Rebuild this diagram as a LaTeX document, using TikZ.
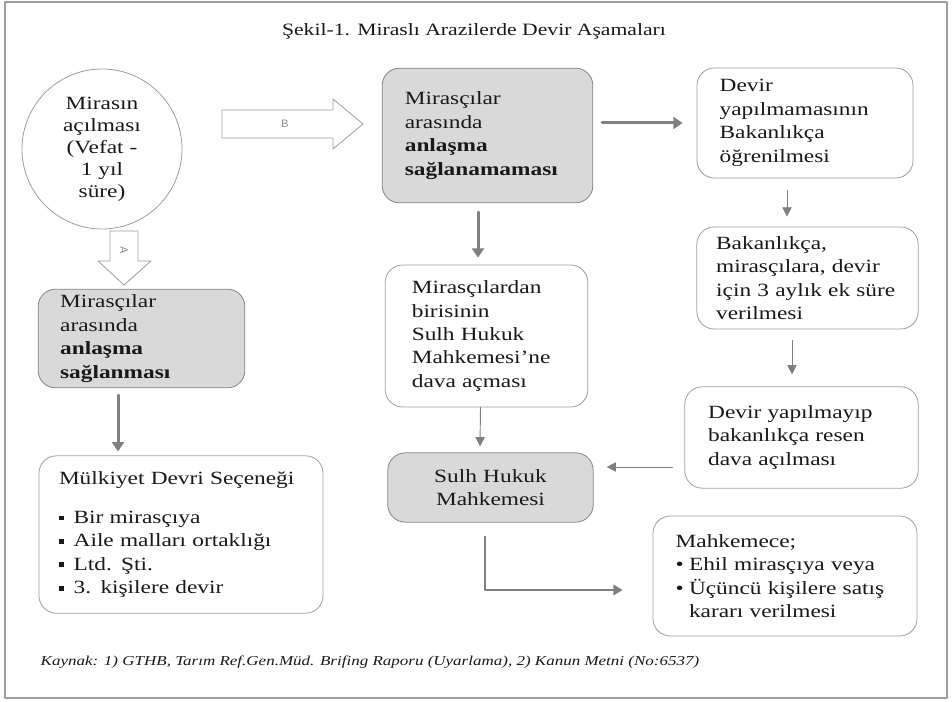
\documentclass[tikz,border=0pt]{standalone}
\usepackage{fontspec}
\setmainfont[FakeStretch=1.25]{Liberation Serif}
\usetikzlibrary{arrows.meta}
\usetikzlibrary{calc}
\usetikzlibrary{positioning}
\definecolor{framegray}{rgb}{0.62,0.62,0.62}
\definecolor{boxgray}{rgb}{0.85,0.85,0.85}
\definecolor{arrowgray}{rgb}{0.5,0.5,0.5}
\definecolor{textgray}{rgb}{0.1,0.1,0.1}
\tikzset{
  box/.style={draw=framegray, line width=0.6pt, rounded corners=13pt, align=left, inner xsep=0pt, inner ysep=0pt, text=textgray, font=\fontsize{14}{17.6}\selectfont},
  graybox/.style={box, fill=boxgray, draw=framegray!85!black},
  thickarrow/.style={draw=arrowgray, line width=2.25pt, -{Triangle[width=9pt,length=7pt]}},
  midarrow/.style={draw=arrowgray, line width=1.5pt, -{Triangle[width=8pt,length=7pt]}},
  thinarrow/.style={draw=arrowgray, line width=0.7pt, -{Triangle[width=7pt,length=7pt]}},
  blockarrow/.style={draw=framegray, fill=white, line width=0.6pt}
}
\newcommand{\sqbullet}{\makebox[11pt][l]{\rule[2.5pt]{3.5pt}{3.5pt}}}
\newcommand{\rdbullet}{\makebox[10pt][l]{\textbullet}}

\begin{document}
\begin{tikzpicture}[line cap=round,line join=round,x=0.75pt,y=-0.75pt]
\useasboundingbox (0,0) rectangle (952,702);
\draw[framegray, line width=1pt] (5,2) rectangle (947,698);
\node[font=\fontsize{13}{15}\selectfont, text=textgray] (baslik) at (474,31) {Şekil-1. Miraslı Arazilerde Devir Aşamaları};
\node[circle, draw=framegray, line width=0.6pt, minimum size=120pt, inner sep=0pt, align=center, text=textgray, font=\fontsize{14}{16.5}\selectfont] (miras) at (102,149) {Mirasın\\açılması\\(Vefat -\\1 yıl\\süre)};
\node[graybox, minimum width=155pt, minimum height=74pt, text width=122pt] (anlasma) at (141.5,338.5) {Mirasçılar\\arasında\\\textbf{anlaşma}\\\textbf{sağlanması}};
\node[box, minimum width=213pt, minimum height=118pt, text width=183pt] (mulkiyet) at (181,534.5) {Mülkiyet Devri Seçeneği\\[12pt]\sqbullet Bir mirasçıya\\\sqbullet Aile malları ortaklığı\\\sqbullet Ltd. Şti.\\\sqbullet 3. kişilere devir};
\node[graybox, minimum width=158pt, minimum height=101pt, text width=124pt] (anlasmayok) at (487.5,135.5) {Mirasçılar\\arasında\\\textbf{anlaşma}\\\textbf{sağlanamaması}};
\node[box, minimum width=152pt, minimum height=106.5pt, text width=112pt] (dava) at (486.5,336) {Mirasçılardan\\birisinin\\Sulh Hukuk\\Mahkemesi'ne\\dava açması};
\node[graybox, minimum width=154pt, minimum height=52pt, text width=150pt, align=center] (sulh) at (490.5,487.5) {Sulh Hukuk\\Mahkemesi};
\node[box, minimum width=162pt, minimum height=82.5pt, text width=128pt] (ogren) at (805,123) {Devir\\yapılmamasının\\Bakanlıkça\\öğrenilmesi};
\node[box, minimum width=166pt, minimum height=76.5pt, text width=137pt] (eksure) at (807.5,278) {Bakanlıkça,\\mirasçılara, devir\\için 3 aylık ek süre\\verilmesi};
\node[box, minimum width=175pt, minimum height=76pt, text width=140pt] (resen) at (801.5,437.5) {Devir yapılmayıp\\bakanlıkça resen\\dava açılması};
\node[box, minimum width=198pt, minimum height=90pt, text width=164pt] (mahkeme) at (785,576) {Mahkemece;\\\rdbullet Ehil mirasçıya veya\\\rdbullet Üçüncü kişilere satış\\\hspace*{10pt}kararı verilmesi};
\node[anchor=west, font=\itshape\fontsize{10.2}{12}\selectfont, text=textgray] (kaynak) at (36,662) {Kaynak: 1) GTHB, Tarım Ref.Gen.Müd. Brifing Raporu (Uyarlama), 2) Kanun Metni (No:6537)};
\draw[blockarrow] (222,110) -- (333,110) -- (333,99) -- (363,124) -- (333,149) -- (333,138) -- (222,138) -- cycle;
\node[font=\sffamily\footnotesize, text=arrowgray] (bharf) at (285,124) {B};
\draw[blockarrow] (110,231) -- (138,231) -- (138,261) -- (151,261) -- (124,285) -- (98,261) -- (110,261) -- cycle;
\node[font=\sffamily\footnotesize, text=arrowgray, rotate=-90] (aharf) at (124,250) {A};
\draw[thickarrow] ($(anlasma.south)+(-23.5,7)$) -- ($(mulkiyet.north)+(-63,-4)$);
\draw[thickarrow] ($(anlasmayok.east |- ogren.west)+(9,0)$) -- ($(ogren.west)+(-14,0)$);
\draw[thickarrow] ($(anlasmayok.south)+(-9.5,9)$) -- ($(dava.north)+(-8.5,-7)$);
\draw[thinarrow] ($(dava.south)+(-6,0)$) -- ($(sulh.north)+(-10.5,-6)$);
\draw[thinarrow] ($(ogren.south)+(-18,12)$) -- ($(eksure.north)+(-20.5,-10)$);
\draw[thinarrow] ($(eksure.south)+(-15.5,11)$) -- ($(resen.north)+(-9.5,-12)$);
\draw[thinarrow] ($(resen.west)+(-12,29.5)$) -- ($(sulh.east)+(13,-20.5)$);
\draw[midarrow] ($(sulh.south)+(-5.5,14)$) |- ($(mahkeme.west)+(-30,14)$);
\end{tikzpicture}
\end{document}
